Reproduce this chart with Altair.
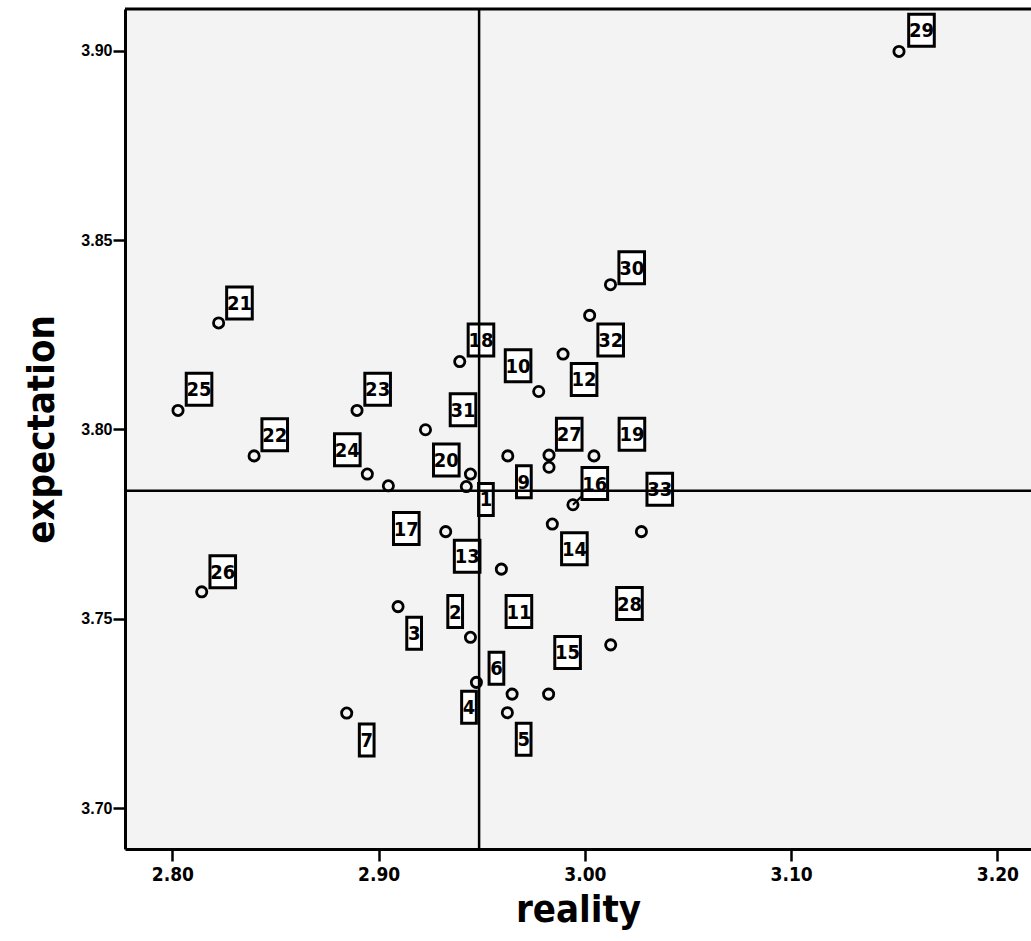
import altair as alt
import pandas as pd

# ---- data ----
ids = list(range(1, 34))
reality = [2.9425, 2.9445, 2.9094, 2.9474, 2.9624, 2.9647, 2.8845, 2.9826, 2.9626, 2.9776,
           2.9595, 2.9894, 2.9325, 2.9842, 2.9824, 2.9942, 2.9047, 2.9393, 3.0044, 2.9445,
           2.8224, 2.8396, 2.8895, 2.8945, 2.8027, 2.8142, 2.9826, 3.0125, 3.1523, 3.0124,
           2.9227, 3.0023, 3.0274]
expectation = [3.7849, 3.7451, 3.7532, 3.7332, 3.7252, 3.7301, 3.7251, 3.7900, 3.7930, 3.8100,
               3.7631, 3.8199, 3.7730, 3.7750, 3.7301, 3.7801, 3.7851, 3.8179, 3.7930, 3.7882,
               3.8281, 3.7930, 3.8050, 3.7882, 3.8050, 3.7571, 3.7932, 3.7431, 3.8998, 3.8382,
               3.7999, 3.8301, 3.7730]
# where each case-number label sits (None = label hidden)
label_reality = [2.9520, 2.9371, 2.9172, 2.9438, 2.9703, 2.9571, 2.8942, None, 2.9704, 2.9676,
                 2.9680, 2.9996, 2.9429, 2.9949, 2.9916, 3.0048, 2.9134, 2.9496, 3.0228, 2.9328,
                 2.8325, 2.8496, 2.8995, 2.8848, 2.8129, 2.8244, 2.9924, 3.0216, 3.1632, 3.0227,
                 2.9409, 3.0125, 3.0363]
label_expectation = [3.7815, 3.7519, 3.7462, 3.7266, 3.7182, 3.7369, 3.7180, None, 3.7862, 3.8168,
                     3.7519, 3.8132, 3.7665, 3.7685, 3.7411, 3.7857, 3.7738, 3.8236, 3.7987, 3.7919,
                     3.8334, 3.7986, 3.8106, 3.7946, 3.8106, 3.7624, 3.7987, 3.7540, 3.9054, 3.8427,
                     3.8052, 3.8236, 3.7842]
leader_ids = [16]
mean_reality = 2.9487
mean_expectation = 3.7838

x_ticks = [2.80, 2.90, 3.00, 3.10, 3.20]
y_ticks = [3.70, 3.75, 3.80, 3.85, 3.90]

# ---- build ----
df = pd.DataFrame({
    "id": ids, "reality": reality, "expectation": expectation,
    "lab_x": label_reality, "lab_y": label_expectation,
})
df["label"] = df["id"].astype(str)
df["digits"] = df["label"].str.len().astype(str)
df["leader"] = df["id"].isin(leader_ids)

W, H = 906, 840
NARROW = "Liberation Sans Narrow, DejaVu Sans Condensed, sans-serif"
REG = "Liberation Sans, Arial, sans-serif"

xs = alt.Scale(domain=[2.777, 3.2163], nice=False, zero=False)
ys = alt.Scale(domain=[3.6892, 3.9110], nice=False, zero=False)

x_axis = alt.Axis(values=x_ticks, format=".2f", grid=False, domainColor="black", domainWidth=3,
                  tickColor="black", tickWidth=2.5, tickSize=12, labelFont=NARROW, labelFontSize=19,
                  labelFontWeight="bold", labelColor="black", labelPadding=4, labelFlush=False,
                  title="reality", titleFont=NARROW, titleFontSize=38, titleFontWeight="bold",
                  titleColor="black", titleX=453, titleY=42, titleAlign="center", titleBaseline="top")
y_axis = alt.Axis(values=y_ticks, format=".2f", grid=False, domainColor="black", domainWidth=3,
                  tickColor="black", tickWidth=2.5, tickSize=12, labelFont=REG, labelFontSize=16,
                  labelFontWeight="bold", labelColor="black", labelPadding=1, labelFlush=False,
                  title="expectation", titleFont=NARROW, titleFontSize=38, titleFontWeight="bold",
                  titleColor="black", titleAngle=270, titleX=-83, titleY=420, titleAlign="center",
                  titleBaseline="middle")

base = alt.Chart(df)

points = base.mark_point(shape="circle", filled=False, color="black", strokeWidth=2.8,
                         size=105, opacity=1).encode(
    x=alt.X("reality:Q", scale=xs, axis=x_axis),
    y=alt.Y("expectation:Q", scale=ys, axis=y_axis),
)

leader = base.transform_filter("datum.leader").mark_rule(color="black", strokeWidth=2).encode(
    x=alt.X("reality:Q", scale=xs, title="reality"),
    y=alt.Y("expectation:Q", scale=ys, title="expectation"),
    x2="lab_x:Q", y2="lab_y:Q",
)

p1 = "M-0.46,-1L0.46,-1L0.46,1L-0.46,1Z"
p2 = "M-0.80,-1L0.80,-1L0.80,1L-0.80,1Z"
labelled = base.transform_filter("isValid(datum.lab_x)")
boxes = labelled.mark_point(filled=True, fill="white", stroke="black", strokeWidth=3,
                            opacity=1, fillOpacity=1, strokeOpacity=1, size=1024).encode(
    x=alt.X("lab_x:Q", scale=xs, title="reality"),
    y=alt.Y("lab_y:Q", scale=ys, title="expectation"),
    shape=alt.Shape("digits:N", scale=alt.Scale(domain=["1", "2"], range=[p1, p2]), legend=None),
)
texts = labelled.mark_text(font=NARROW, fontWeight="bold", fontSize=20, color="black",
                           align="center", baseline="middle", dy=1).encode(
    x=alt.X("lab_x:Q", scale=xs, title="reality"),
    y=alt.Y("lab_y:Q", scale=ys, title="expectation"),
    text="label:N",
)

vline = alt.Chart(pd.DataFrame({"m": [mean_reality]})).mark_rule(color="black", strokeWidth=2.5).encode(
    x=alt.X("m:Q", scale=xs, title="reality"))
hline = alt.Chart(pd.DataFrame({"m": [mean_expectation]})).mark_rule(color="black", strokeWidth=2.5).encode(
    y=alt.Y("m:Q", scale=ys, title="expectation"))
topline = alt.Chart(pd.DataFrame({"a": [0]})).mark_rule(color="black", strokeWidth=3).encode(
    x=alt.value(0), x2=alt.value(W), y=alt.value(0))

chart = alt.layer(leader, points, boxes, texts, vline, hline, topline).properties(
    width=W, height=H,
    autosize=alt.AutoSizeParams(type="none"),
    padding={"left": 125, "top": 9, "right": 0, "bottom": 92},
    background="white",
).configure_view(stroke=None, fill="#f3f3f3")

chart.save("out.html", embed_options={"renderer": "svg", "actions": False})
